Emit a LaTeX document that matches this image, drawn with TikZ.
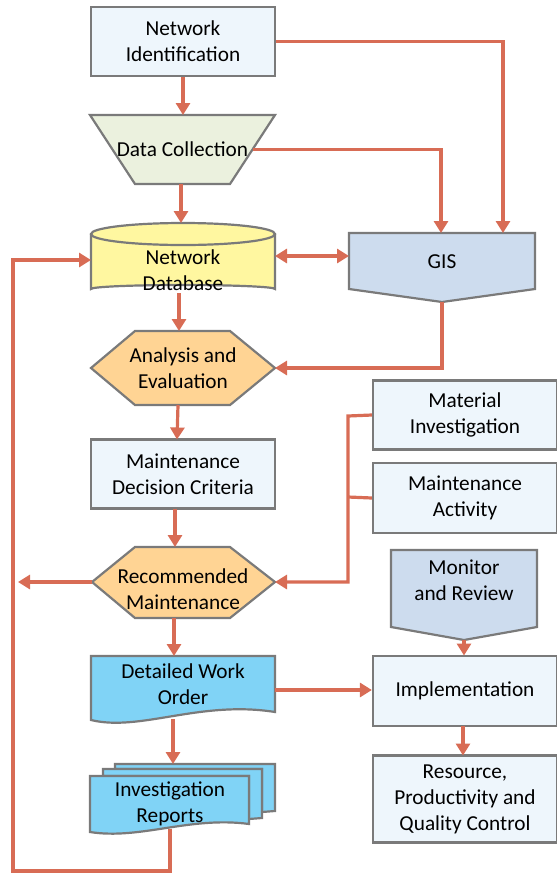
\documentclass[tikz,border=0pt]{standalone}
\usepackage{fontspec}
\setmainfont{Carlito}
\usetikzlibrary{arrows.meta}
\definecolor{arr}{HTML}{D86C55}
\definecolor{bord}{HTML}{7A7A7A}
\definecolor{boxf}{HTML}{EEF6FC}
\definecolor{greenf}{HTML}{EBF1DE}
\definecolor{yelf}{HTML}{FFF7A0}
\definecolor{oraf}{HTML}{FFD494}
\definecolor{gisf}{HTML}{CDDCEE}
\definecolor{docf}{HTML}{80D3F6}
\tikzset{
  shp/.style={draw=bord, line width=2.2pt, line join=miter},
  lbl/.style={align=center, font=\fontsize{21.3}{26}\selectfont, text=black, inner sep=0pt},
  rbox/.style={shp, fill=boxf, lbl, minimum width=184pt, minimum height=69pt},
  conn/.style={draw=arr, line width=3.2pt},
  arw/.style={conn, -{Triangle[length=12pt,width=14pt]}},
  darw/.style={conn, {Triangle[length=12pt,width=14pt]}-{Triangle[length=12pt,width=14pt]}},
}
\begin{document}
\begin{tikzpicture}[x=1pt,y=-1pt]
\useasboundingbox (0,0) rectangle (557,876);

% Network Identification
\node[rbox] (ni) at (183,41.5) {Network\\Identification};

% Data Collection trapezoid
\draw[shp, fill=greenf] (90,115) -- (275,115) -- (230,184) -- (135,184) -- cycle;
\node[lbl] (dc) at (182.5,149.5) {Data Collection};
\coordinate (dcT) at (183,115);
\coordinate (dcR) at (252.5,149.5);
\coordinate (dcB) at (181,184);

% Network Database cylinder
\draw[shp, fill=yelf] (91,234) -- (91,289) arc[start angle=180, end angle=360, x radius=92, y radius=4] -- (275,234);
\draw[shp, fill=yelf] (183,234) ellipse[x radius=92, y radius=11];
\node[lbl] (nd) at (183,270) {Network\\Database};
\coordinate (ndT) at (181,223);
\coordinate (ndB) at (179,293);
\coordinate (ndL) at (91,260);
\coordinate (ndR) at (275,256);

% GIS
\draw[shp, fill=gisf] (349,233) -- (535,233) -- (535,289) -- (442,302) -- (349,289) -- cycle;
\node[lbl] (gis) at (442,262) {GIS};
\coordinate (gisT1) at (441,233);
\coordinate (gisT2) at (503,233);
\coordinate (gisL) at (349,256);
\coordinate (gisB) at (442,302);

% Analysis and Evaluation hexagon
\draw[shp, fill=oraf] (91,368) -- (135,331) -- (230,331) -- (275,368) -- (230,405) -- (135,405) -- cycle;
\node[lbl] (ae) at (183,368) {Analysis and\\Evaluation};
\coordinate (aeT) at (179,331);
\coordinate (aeB) at (178,405);
\coordinate (aeR) at (275,368);

% Maintenance Decision Criteria
\node[rbox] (mdc) at (183,474) {Maintenance\\Decision Criteria};
\coordinate (mdcT) at (177,439.5);
\coordinate (mdcB) at (175,508.5);

% Recommended Maintenance hexagon
\draw[shp, fill=oraf] (92,582) -- (135,547) -- (230,547) -- (275,582) -- (230,618) -- (135,618) -- cycle;
\node[lbl] (rm) at (183,589) {Recommended\\Maintenance};
\coordinate (rmT) at (175,547);
\coordinate (rmB) at (174,618);
\coordinate (rmL) at (92,582);
\coordinate (rmR) at (275,582);
\coordinate (leftA) at (18,582);

% Detailed Work Order document
\draw[shp, fill=docf] (91,656) -- (275,656) -- (275,712) .. controls (200,700) and (140,732) .. (91,720) -- cycle;
\node[lbl] (dwo) at (183,684) {Detailed Work\\Order};
\coordinate (dwoT) at (174,656);
\coordinate (dwoB) at (173,719);
\coordinate (dwoR) at (275,690);

% Investigation Reports multi-document
\draw[shp, fill=docf] (115,764) -- (275,764) -- (275,811) -- (262,812) -- (262,769) -- (115,769) -- cycle;
\draw[shp, fill=docf] (103,769) -- (262,769) -- (262,818) -- (249,819) -- (249,776) -- (103,776) -- cycle;
\draw[shp, fill=docf] (90,776) -- (249,776) -- (249,824) .. controls (190,816) and (140,840) .. (90,832) -- cycle;
\node[lbl] (ir) at (170,804) {Investigation\\Reports};
\coordinate (irT) at (173,764);
\coordinate (irB) at (170,829);
\coordinate (c1) at (170,871);
\coordinate (c2) at (13,871);

% Right column
\node[rbox] (mi) at (465,415) {Material\\Investigation};
\node[rbox, minimum height=70pt] (ma) at (465,498) {Maintenance\\Activity};
\coordinate (busT) at (348,416);
\coordinate (busM) at (348,497);
\coordinate (busB) at (348,582);

\draw[shp, fill=gisf] (391,550) -- (537,550) -- (537,627) -- (464,640) -- (391,627) -- cycle;
\node[lbl] (mr) at (464,580) {Monitor\\and Review};
\coordinate (mrB) at (464,640);

\node[rbox, minimum height=70pt] (imp) at (465,691) {Implementation};
\coordinate (impT) at (464,655.5);
\coordinate (impB) at (463,726);
\node[rbox, minimum height=87pt] (res) at (465,799) {Resource,\\Productivity and\\Quality Control};
\coordinate (resT) at (463,755.5);

% Connectors
\draw[arw] (ni.south) -- (dcT);
\draw[arw] (ni.east) -| (gisT2);
\draw[arw] (dcR) -| (gisT1);
\draw[arw] (dcB) -- (ndT);
\draw[darw] (ndR) -- (gisL);
\draw[arw] (ndB) -- (aeT);
\draw[arw] (gisB) |- (aeR);
\draw[arw] (aeB) -- (mdcT);
\draw[arw] (mdcB) -- (rmT);
\draw[arw] (rmL) -- (leftA);
\draw[arw] (mi.west) -- (busT) -- (busB) -- (rmR);
\draw[conn] (ma.west) -- (busM);
\draw[arw] (rmB) -- (dwoT);
\draw[arw] (dwoR) -- (imp.west |- dwoR);
\draw[arw] (dwoB) -- (irT);
\draw[arw] (irB) -- (c1) -- (c2) |- (ndL);
\draw[arw] (mrB) -- (impT);
\draw[arw] (impB) -- (resT);
\end{tikzpicture}
\end{document}
